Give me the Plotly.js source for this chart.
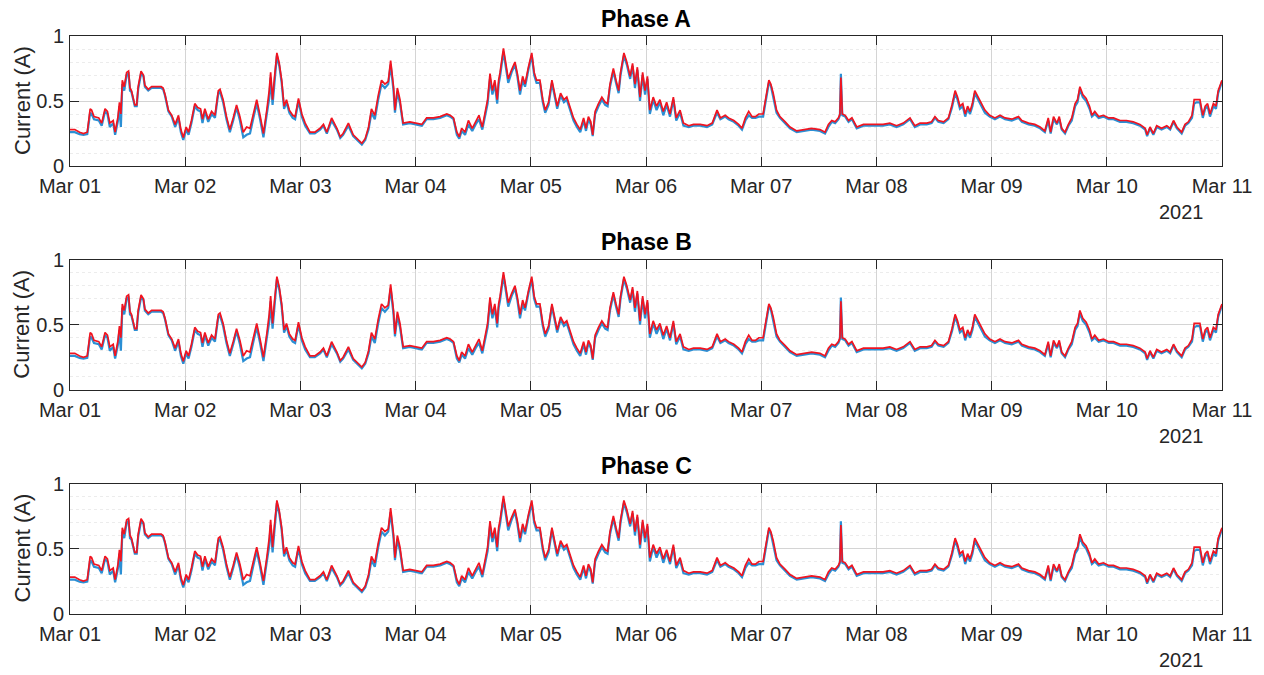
<!DOCTYPE html>
<html>
<head>
<meta charset="utf-8">
<script src="https://cdn.plot.ly/plotly-3.0.1.min.js"></script>
<style>html,body{margin:0;padding:0;background:#fff;}#chart{width:1264px;height:675px;}</style>
</head>
<body>
<div id="chart"></div>
<script>
// Hours elapsed since 2021-03-01 00:00 (sample times)
const hoursFromStart = [
  0,1,2,2.8,3.6,4.2,4.5,5,6,6.6,7.3,7.8,8.3,9,9.4,10,10.3,10.6,10.9,11.3,11.8,12.2,12.5,12.8,13.5,13.9,14.2,14.8,15.3,15.6,16.3,17,18,19,19.4,19.8,20.5,21.2,21.9,22.6,23.1,23.6,
  24.2,24.7,25.3,26,26.6,27.2,27.6,28.1,28.8,29.5,30.2,30.9,31.25,31.9,32.6,33.3,34,34.7,35.4,36.1,36.8,37.5,38.2,38.9,39.6,40.3,41,41.5,41.8,42.2,42.6,43.1,43.6,44.1,44.6,45.1,45.7,46.4,46.9,47.6,
  48.3,49,50,51,52.1,52.8,53.5,54.5,55.6,56.3,56.9,58,59,60.1,60.8,61.5,62.2,62.8,63.5,64.2,64.9,65.6,66.3,66.8,67.4,67.7,68.2,68.75,69.4,70.8,
  72.2,73.3,74.3,75.7,77.1,78.5,79.2,79.9,80.6,81.1,81.6,82.3,83,83.8,84.5,85.2,85.9,86.5,87,87.5,88,88.5,89,89.3,89.6,90.3,90.9,91.3,92,92.7,93.2,93.75,94.3,94.8,95.5,
  96.2,96.7,97.2,97.9,98.5,99,99.7,100.4,100.9,101.5,102.2,102.9,103.5,104.3,104.9,105.6,106.3,107,107.5,108,108.5,108.9,109.4,110.1,110.8,111.5,112,112.5,113.2,113.75,114.3,114.7,115.4,116,116.7,117.2,117.7,118.2,118.75,119.3,119.8,
  120.3,120.8,121.5,122.2,122.9,123.6,124.3,125,125.7,126.3,127.1,127.8,128.9,129.9,131.3,132.7,133.8,134.4,134.8,135.5,136.5,137.2,138.3,139.3,140,140.7,141.4,142.1,142.8,143.5,
  144.4,144.9,145.6,146,146.5,147.2,147.9,149,150,151.4,152.8,154.5,156.25,157.3,158,158.7,159.4,160.1,160.4,160.6,160.9,161.5,162.2,162.9,163.9,165.3,166.7,
  168.1,169.4,170.8,172.2,173.6,175,176,177.1,178.5,179.5,180.2,180.9,182,183,183.75,184.4,184.9,185.4,186,186.5,187,187.5,188,188.5,189.2,189.9,190.6,191.6,
  192.7,193.75,194.8,196.2,197.6,198.3,199.7,201,202.1,203.1,203.8,204.3,204.9,205.6,206.1,206.6,207.3,208,208.7,209.4,209.9,210.4,211,211.7,212.4,212.9,213.5,214.3,215.3,
  216.4,217.4,218.75,220.1,221.5,222.9,224,224.4,225,225.7,226.4,227.4,228.5,229.2,229.9,230.6,231.6,232.3,233,233.75,234.2,234.7,235.4,236,236.5,237,237.5,238.2,238.75,239.2,240
];

// Red trace
const currentRed = [
  0.28,0.28,0.26,0.25,0.26,0.44,0.43,0.38,0.37,0.33,0.44,0.42,0.33,0.35,0.26,0.38,0.49,0.40,0.66,0.61,0.72,0.73,0.60,0.58,0.47,0.47,0.61,0.73,0.70,0.62,0.59,0.61,0.61,0.61,0.60,0.55,0.43,0.39,0.32,0.39,0.28,0.22,
  0.30,0.26,0.35,0.48,0.45,0.44,0.36,0.44,0.36,0.42,0.39,0.58,0.59,0.51,0.38,0.28,0.37,0.47,0.38,0.26,0.30,0.29,0.40,0.51,0.39,0.25,0.43,0.58,0.72,0.51,0.68,0.87,0.79,0.66,0.46,0.51,0.43,0.39,0.38,0.52,
  0.40,0.33,0.26,0.26,0.29,0.32,0.26,0.37,0.29,0.225,0.25,0.33,0.24,0.20,0.175,0.21,0.30,0.44,0.39,0.54,0.66,0.63,0.65,0.81,0.61,0.43,0.60,0.51,0.33,0.34,
  0.33,0.32,0.37,0.37,0.38,0.40,0.39,0.37,0.26,0.225,0.29,0.26,0.35,0.29,0.34,0.39,0.30,0.43,0.51,0.71,0.58,0.66,0.51,0.66,0.72,0.905,0.78,0.67,0.74,0.80,0.71,0.58,0.69,0.63,0.76,
  0.87,0.72,0.66,0.66,0.51,0.43,0.49,0.66,0.56,0.46,0.56,0.51,0.53,0.43,0.37,0.32,0.28,0.37,0.29,0.38,0.34,0.24,0.42,0.48,0.53,0.49,0.48,0.63,0.75,0.66,0.58,0.72,0.87,0.80,0.69,0.79,0.63,0.76,0.53,0.72,0.58,
  0.69,0.43,0.53,0.46,0.51,0.42,0.49,0.40,0.53,0.37,0.43,0.33,0.31,0.32,0.32,0.31,0.33,0.40,0.43,0.37,0.39,0.37,0.35,0.32,0.29,0.37,0.42,0.38,0.38,0.40,
  0.40,0.51,0.66,0.63,0.56,0.43,0.38,0.34,0.30,0.27,0.28,0.29,0.28,0.26,0.32,0.35,0.34,0.37,0.40,0.68,0.40,0.39,0.35,0.37,0.30,0.32,0.32,
  0.32,0.32,0.33,0.31,0.33,0.37,0.31,0.33,0.33,0.34,0.38,0.35,0.34,0.37,0.47,0.58,0.53,0.46,0.48,0.40,0.46,0.42,0.48,0.58,0.53,0.48,0.43,0.39,
  0.37,0.39,0.37,0.36,0.38,0.35,0.33,0.32,0.30,0.27,0.37,0.26,0.38,0.33,0.38,0.29,0.26,0.32,0.37,0.48,0.51,0.61,0.55,0.52,0.46,0.39,0.42,0.38,0.39,
  0.37,0.37,0.35,0.35,0.34,0.32,0.29,0.24,0.30,0.25,0.31,0.29,0.31,0.29,0.35,0.30,0.26,0.32,0.34,0.39,0.51,0.51,0.51,0.39,0.46,0.48,0.40,0.48,0.46,0.58,0.66
];

// Blue trace, mostly hidden under the red one
const currentBlue = [
  0.26,0.26,0.245,0.24,0.245,0.41,0.40,0.36,0.35,0.31,0.42,0.40,0.30,0.33,0.24,0.35,0.46,0.30,0.63,0.58,0.70,0.71,0.58,0.57,0.46,0.46,0.59,0.71,0.69,0.61,0.58,0.60,0.60,0.60,0.59,0.54,0.42,0.38,0.30,0.37,0.26,0.20,
  0.28,0.24,0.33,0.46,0.43,0.42,0.33,0.42,0.34,0.40,0.37,0.56,0.57,0.49,0.36,0.26,0.35,0.45,0.35,0.22,0.24,0.25,0.37,0.48,0.36,0.22,0.40,0.52,0.68,0.47,0.64,0.85,0.77,0.64,0.44,0.49,0.41,0.37,0.36,0.50,
  0.38,0.31,0.25,0.25,0.28,0.31,0.25,0.35,0.28,0.215,0.24,0.31,0.23,0.19,0.165,0.20,0.28,0.41,0.36,0.51,0.63,0.60,0.63,0.78,0.58,0.41,0.57,0.48,0.32,0.33,
  0.32,0.31,0.36,0.36,0.37,0.39,0.38,0.36,0.24,0.21,0.27,0.24,0.32,0.27,0.32,0.36,0.28,0.40,0.48,0.67,0.55,0.63,0.48,0.63,0.69,0.88,0.75,0.64,0.72,0.78,0.69,0.55,0.66,0.61,0.74,
  0.85,0.70,0.64,0.64,0.49,0.41,0.47,0.64,0.54,0.44,0.54,0.49,0.51,0.41,0.35,0.30,0.26,0.35,0.27,0.36,0.32,0.23,0.40,0.46,0.51,0.47,0.46,0.61,0.73,0.64,0.56,0.70,0.85,0.78,0.67,0.77,0.60,0.74,0.50,0.70,0.55,
  0.67,0.40,0.51,0.43,0.49,0.39,0.47,0.38,0.51,0.35,0.41,0.31,0.30,0.31,0.31,0.30,0.32,0.38,0.41,0.36,0.38,0.36,0.34,0.31,0.28,0.35,0.39,0.37,0.37,0.38,
  0.38,0.49,0.64,0.62,0.54,0.41,0.37,0.33,0.29,0.26,0.27,0.28,0.27,0.25,0.30,0.34,0.33,0.36,0.39,0.71,0.39,0.38,0.34,0.36,0.29,0.31,0.31,
  0.31,0.31,0.32,0.30,0.32,0.36,0.30,0.32,0.32,0.33,0.37,0.34,0.33,0.36,0.45,0.56,0.51,0.44,0.46,0.38,0.44,0.40,0.46,0.56,0.51,0.46,0.41,0.38,
  0.36,0.38,0.36,0.35,0.37,0.34,0.32,0.31,0.29,0.26,0.35,0.25,0.36,0.32,0.36,0.28,0.25,0.31,0.35,0.46,0.49,0.59,0.53,0.50,0.44,0.38,0.40,0.37,0.38,
  0.36,0.36,0.34,0.34,0.33,0.31,0.28,0.23,0.29,0.24,0.30,0.28,0.30,0.28,0.34,0.29,0.25,0.31,0.33,0.37,0.48,0.49,0.49,0.37,0.44,0.46,0.38,0.46,0.44,0.56,0.65
];

const panelTitles = ["Phase A", "Phase B", "Phase C"];
const yTickValues = [0, 0.5, 1];
const yTickLabels = ["0", "0.5", "1"];
const yAxisLabel = "Current (A)";
const yearLabel = "2021";
const startDate = "2021-03-01";
const endDate = "2021-03-11";

// ---- build ----
const t0 = Date.UTC(2021, 2, 1);
function toStr(ms) { return new Date(ms).toISOString().slice(0, 19).replace("T", " "); }
const times = hoursFromStart.map(h => toStr(t0 + Math.round(h * 3600000)));

const W = 1264, H = 675;
const panelTopsPx = [36, 259.75, 483.5];
const panelH = 130;
const fy = px => 1 - px / H;

const FONT = "Liberation Sans, Arial, Helvetica, sans-serif";
const INK = "#262626";

const traces = [];
const layout = {
  width: W, height: H,
  margin: {l: 70, r: 42, t: 0, b: 0},
  paper_bgcolor: "#ffffff", plot_bgcolor: "#ffffff",
  showlegend: false,
  font: {family: FONT, color: INK, size: 20},
  annotations: []
};

panelTitles.forEach((title, i) => {
  const sfx = i === 0 ? "" : String(i + 1);
  const top = panelTopsPx[i], bot = top + panelH;
  traces.push({
    x: times, y: currentBlue, type: "scatter", mode: "lines",
    xaxis: "x" + sfx, yaxis: "y" + sfx,
    line: {color: "#2b8fd4", width: 2.2}, hoverinfo: "skip"
  });
  traces.push({
    x: times, y: currentRed, type: "scatter", mode: "lines",
    xaxis: "x" + sfx, yaxis: "y" + sfx,
    line: {color: "#f01420", width: 1.7}, hoverinfo: "skip"
  });
  layout["xaxis" + sfx] = {
    type: "date", range: [startDate, endDate], domain: [0, 1],
    anchor: "y" + sfx,
    tickmode: "linear", tick0: startDate, dtick: 86400000, tickformat: "%b %d",
    ticks: "inside", ticklen: 9, tickwidth: 1, tickcolor: INK,
    showline: true, linecolor: INK, linewidth: 1, mirror: "ticks",
    showgrid: true, gridcolor: "#d4d4d4", gridwidth: 1,
    zeroline: false, automargin: false,
    tickfont: {family: FONT, size: 20, color: INK},
    ticklabelstandoff: 2
  };
  layout["yaxis" + sfx] = {
    range: [0, 1], domain: [fy(bot), fy(top)],
    anchor: "x" + sfx,
    tickmode: "array", tickvals: yTickValues, ticktext: yTickLabels,
    ticks: "inside", ticklen: 9, tickwidth: 1, tickcolor: INK,
    showline: true, linecolor: INK, linewidth: 1, mirror: "ticks",
    showgrid: true, gridcolor: "#d4d4d4", gridwidth: 1,
    minor: {dtick: 0.1, showgrid: true, gridcolor: "#ececec", griddash: "dot", ticks: ""},
    zeroline: false, automargin: false,
    tickfont: {family: FONT, size: 20, color: INK},
    ticklabelstandoff: 1
  };
  layout.annotations.push({
    text: "<b>" + title + "</b>", xref: "paper", yref: "paper",
    x: 0.5, y: fy(top - 17.5), xanchor: "center", yanchor: "middle",
    showarrow: false, font: {family: FONT, size: 23, color: "#000000"}
  });
  layout.annotations.push({
    text: yAxisLabel, xref: "paper", yref: "paper",
    x: (22 - 70) / 1152, y: fy(top + panelH / 2), xanchor: "center", yanchor: "middle",
    textangle: -90, showarrow: false, font: {family: FONT, size: 22, color: INK}
  });
  layout.annotations.push({
    text: yearLabel, xref: "paper", yref: "paper",
    x: (1181 - 70) / 1152, y: fy(bot + 46), xanchor: "center", yanchor: "middle",
    showarrow: false, font: {family: FONT, size: 20, color: INK}
  });
});

Plotly.newPlot("chart", traces, layout, {staticPlot: true, displayModeBar: false});
</script>
</body>
</html>
